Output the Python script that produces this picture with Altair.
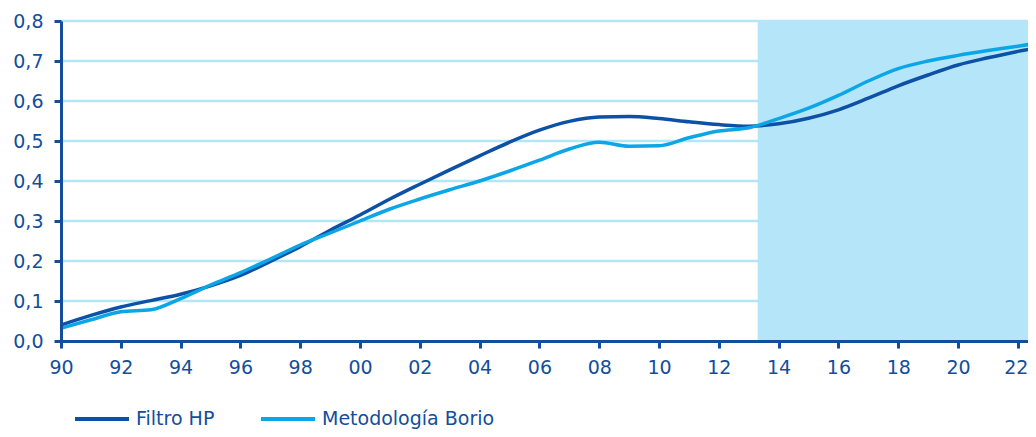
import altair as alt
import pandas as pd

years = [1990, 1991, 1992, 1993, 1994, 1995, 1996, 1997, 1998, 1999,
         2000, 2001, 2002, 2003, 2004, 2005, 2006, 2007, 2008, 2009,
         2010, 2011, 2012, 2013, 2014, 2015, 2016, 2017, 2018, 2019,
         2020, 2021, 2022, 2022.6]
filtro_hp = [0.040, 0.064, 0.085, 0.101, 0.117, 0.138, 0.164, 0.199, 0.236, 0.277,
             0.315, 0.355, 0.392, 0.428, 0.463, 0.497, 0.527, 0.549, 0.560, 0.561,
             0.556, 0.548, 0.541, 0.537, 0.543, 0.557, 0.578, 0.607, 0.638, 0.665,
             0.690, 0.708, 0.724, 0.732]
borio = [0.032, 0.053, 0.073, 0.078, 0.106, 0.140, 0.171, 0.205, 0.240, 0.270,
         0.300, 0.330, 0.355, 0.378, 0.400, 0.425, 0.452, 0.480, 0.497, 0.487,
         0.488, 0.508, 0.525, 0.533, 0.556, 0.582, 0.614, 0.650, 0.681, 0.700,
         0.714, 0.726, 0.737, 0.744]
series_names = ["Filtro HP", "Metodología Borio"]
y_ticks = [0.0, 0.1, 0.2, 0.3, 0.4, 0.5, 0.6, 0.7, 0.8]
grid_values = [0.1, 0.2, 0.3, 0.4, 0.5, 0.6, 0.7, 0.8]
x_ticks = list(range(1990, 2023, 2))
shade_start = 2013.3
x_end = 2022.34

DARK = "#0c51a6"
LIGHT = "#0ba6e8"
SHADE = "#b5e5f8"
TEXT = "#124e9c"
FONT = "DejaVu Sans"

n = len(years)
df = pd.DataFrame({
    "year": years * 2,
    "value": filtro_hp + borio,
    "serie": [series_names[0]] * n + [series_names[1]] * n,
})

x_scale = alt.Scale(domain=[1990, x_end], nice=False, zero=False)
y_scale = alt.Scale(domain=[0, 0.8], nice=False, zero=True)

axis_common = dict(
    domainColor=TEXT, domainWidth=3, tickColor=TEXT, tickWidth=3,
    labelColor=TEXT, labelFont=FONT, labelFontSize=19, grid=False, title=None,
    zindex=1, tickSize=7, labelFlush=False, labelOverlap=False,
)
last_tick = x_ticks[-1]
x_axis = alt.Axis(values=x_ticks, labelExpr="slice(toString(datum.value), 2)",
                  labelPadding=10,
                  labelAlign=alt.condition(f"datum.value == {last_tick}", alt.value("right"), alt.value("center")),
                  labelOffset=alt.condition(f"datum.value == {last_tick}", alt.value(10), alt.value(0)),
                  **axis_common)
y_axis = alt.Axis(values=y_ticks, labelExpr="replace(format(datum.value, '.1f'), '.', ',')",
                  labelPadding=11, **axis_common)

grid = alt.Chart(pd.DataFrame({"g": grid_values})).mark_rule(
    color=SHADE, strokeWidth=2.5
).encode(y=alt.Y("g:Q", scale=y_scale, axis=y_axis))

shade = alt.Chart(pd.DataFrame({"x0": [shade_start], "x1": [x_end], "y0": [0.0], "y1": [0.8]})).mark_rect(
    color=SHADE, opacity=1
).encode(
    x=alt.X("x0:Q", scale=x_scale, axis=x_axis),
    x2="x1:Q",
    y=alt.Y("y0:Q", scale=y_scale, axis=y_axis),
    y2="y1:Q",
)

lines = alt.Chart(df).mark_line(strokeWidth=3.5, interpolate="monotone", clip=True).encode(
    x=alt.X("year:Q", scale=x_scale, axis=x_axis),
    y=alt.Y("value:Q", scale=y_scale, axis=y_axis),
    color=alt.Color("serie:N", scale=alt.Scale(domain=series_names, range=[DARK, LIGHT]),
                    legend=alt.Legend(orient="none", legendX=12, legendY=369, direction="horizontal",
                                      title=None, symbolType="stroke", symbolSize=2916,
                                      symbolStrokeWidth=4, labelFont=FONT, labelFontSize=19,
                                      labelColor=TEXT, labelOffset=5, columnPadding=38,
                                      labelLimit=0)),
)

chart = alt.layer(grid, shade, lines).properties(
    width=967, height=320,
    autosize="none",
    padding={"left": 53, "top": 13, "right": 0, "bottom": 88},
).configure_view(stroke=None)

chart.save("out.html", embed_options={"renderer": "svg", "actions": False})
